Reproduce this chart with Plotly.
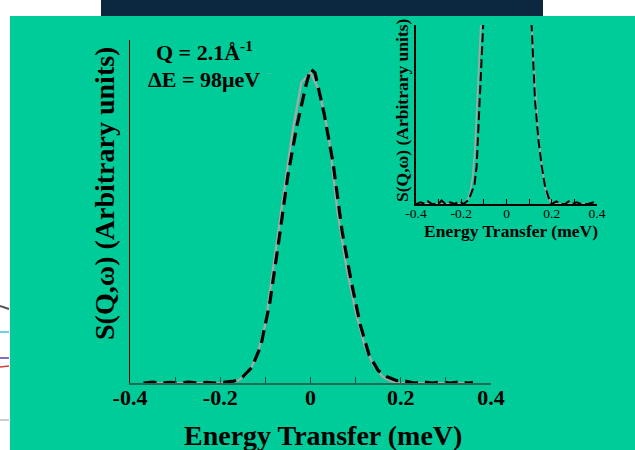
import plotly.graph_objects as go

# ---- main panel: S(Q,w) at Q = 2.1 1/A -------------------------------------
model_energy = [-0.36, -0.34, -0.32, -0.30, -0.28, -0.26, -0.24, -0.22, -0.20,
                -0.18, -0.16, -0.14, -0.12, -0.10, -0.08, -0.06, -0.04, -0.02,
                0.00, 0.02, 0.04, 0.06, 0.08, 0.10, 0.12, 0.14, 0.16, 0.18,
                0.20, 0.22, 0.24, 0.26, 0.28, 0.30, 0.32, 0.34, 0.36]
model_intensity = [0.0, 0.0, 0.0, 0.0, 0.0, 0.0, 0.0, 0.0, 0.0,
                   0.0, 0.008, 0.03, 0.08, 0.19, 0.40, 0.60, 0.81, 0.97,
                   1.0, 0.94, 0.80, 0.55, 0.37, 0.23, 0.12, 0.055, 0.02, 0.005,
                   0.0, 0.0, 0.0, 0.0, 0.0, 0.0, 0.0, 0.0, 0.0]

data_energy = [-0.37, -0.35, -0.33, -0.31, -0.29, -0.27, -0.25, -0.23, -0.21,
               -0.19, -0.17, -0.15, -0.13, -0.11, -0.09, -0.07, -0.05, -0.03,
               -0.01, 0.00, 0.01, 0.03, 0.05, 0.07, 0.09, 0.11, 0.13, 0.15,
               0.17, 0.19, 0.21, 0.23, 0.25, 0.27, 0.29, 0.31, 0.33, 0.35, 0.36]
data_intensity = [0.0, 0.003, 0.0, 0.002, 0.0, 0.003, 0.0, 0.002, 0.0,
                  0.002, 0.006, 0.02, 0.05, 0.12, 0.26, 0.46, 0.67, 0.83,
                  0.96, 1.013, 1.0, 0.87, 0.71, 0.49, 0.33, 0.19, 0.09, 0.04,
                  0.02, 0.008, 0.006, 0.0, 0.004, 0.0, 0.003, 0.0, 0.004, 0.0, 0.002]

# ---- inset: the wings of the same line, expanded vertically -----------------
inset_model_energy = [-0.38, -0.20, -0.18, -0.17, -0.16, -0.15, -0.14, -0.13,
                      -0.12, -0.11, -0.10, 0.00, 0.10, 0.11, 0.12, 0.13, 0.14,
                      0.15, 0.16, 0.17, 0.18, 0.19, 0.20, 0.38]
inset_model_intensity = [0.0, 0.0, 0.001, 0.003, 0.007, 0.015, 0.03, 0.055,
                         0.085, 0.11, 0.16, 1.0, 0.16, 0.105, 0.08, 0.058, 0.04,
                         0.028, 0.017, 0.009, 0.004, 0.002, 0.0, 0.0]

inset_data_energy = [-0.40, -0.38, -0.36, -0.347, -0.33, -0.30, -0.287, -0.27,
                     -0.25, -0.23, -0.206, -0.19, -0.17, -0.162, -0.15, -0.142,
                     -0.132, -0.125, -0.117, -0.11, -0.103, -0.09, 0.00, 0.09,
                     0.111, 0.126, 0.141, 0.156, 0.17, 0.19, 0.20, 0.22, 0.24,
                     0.26, 0.275, 0.29, 0.31, 0.33, 0.36, 0.40]
inset_data_intensity = [0.0, 0.001, 0.0, 0.0015, 0.0, 0.0, 0.002, 0.0,
                        0.001, 0.0, 0.0015, 0.0, 0.002, 0.004, 0.008, 0.01,
                        0.021, 0.04, 0.058, 0.077, 0.1, 0.2, 1.0, 0.2,
                        0.1, 0.058, 0.036, 0.021, 0.01, 0.002, 0.0, 0.0015, 0.0,
                        0.0, 0.0015, 0.0, 0.001, 0.0, 0.0, 0.0015]

tick_values = [-0.4, -0.2, 0, 0.2, 0.4]
tick_labels = ["-0.4", "-0.2", "0", "0.2", "0.4"]

BG = "#00CC99"
SERIF = "Liberation Serif, Times New Roman, serif"
W, H = 635, 450


def px_x(p):
    return p / W


def px_y(p):
    return 1 - p / H


fig = go.Figure()

fig.add_trace(go.Scatter(x=model_energy, y=model_intensity, mode="lines",
                         line=dict(color="#A8A8A8", width=2.2),
                         xaxis="x", yaxis="y", showlegend=False))
fig.add_trace(go.Scatter(x=data_energy, y=data_intensity, mode="lines",
                         line=dict(color="black", width=3.2, dash="13px,7px"),
                         xaxis="x", yaxis="y", showlegend=False))

fig.add_trace(go.Scatter(x=inset_model_energy, y=inset_model_intensity, mode="lines",
                         line=dict(color="#A8A8A8", width=1.6),
                         xaxis="x2", yaxis="y2", showlegend=False))
fig.add_trace(go.Scatter(x=inset_data_energy, y=inset_data_intensity, mode="lines",
                         line=dict(color="black", width=2, dash="9px,4px"),
                         xaxis="x2", yaxis="y2", showlegend=False))

main_x = [px_x(130), px_x(491)]
main_y = [px_y(383), px_y(40)]
ins_x = [px_x(416), px_x(597)]
ins_y = [px_y(204), px_y(25)]

fig.update_layout(
    width=W, height=H, autosize=False,
    margin=dict(l=0, r=0, t=0, b=0, pad=0),
    paper_bgcolor=BG, plot_bgcolor="rgba(0,0,0,0)",
    xaxis=dict(domain=main_x, range=[-0.4, 0.4], anchor="y", automargin=False,
               showgrid=False, zeroline=False,
               showline=True, linecolor="#1E6B58", linewidth=2,
               ticks="inside", ticklen=6, tickwidth=1, tickcolor="#1E4F44",
               tickvals=tick_values, ticktext=tick_labels,
               ticklabelstandoff=-6,
               minor=dict(dtick=0.1, tick0=0, ticks="inside", ticklen=6,
                          tickcolor="#1E4F44", tickwidth=1),
               tickfont=dict(family=SERIF, size=22, color="black", weight="bold")),
    yaxis=dict(domain=main_y, range=[0, 1.106], anchor="x", automargin=False,
               showgrid=False, zeroline=False,
               showline=True, linecolor="black", linewidth=1,
               showticklabels=False, ticks=""),
    xaxis2=dict(domain=ins_x, range=[-0.4, 0.4], anchor="y2", automargin=False,
                showgrid=False, zeroline=False,
                showline=True, linecolor="black", linewidth=1.5,
                ticks="inside", ticklen=5, tickwidth=1, tickcolor="black",
                tickvals=tick_values, ticktext=tick_labels,
                ticklabelstandoff=-4,
                minor=dict(dtick=0.1, tick0=0, ticks="inside", ticklen=5,
                           tickcolor="black", tickwidth=1),
                tickfont=dict(family=SERIF, size=13.5, color="black")),
    yaxis2=dict(domain=ins_y, range=[0, 0.1], anchor="x2", automargin=False,
                showgrid=False, zeroline=False,
                showline=True, linecolor="black", linewidth=1.5,
                showticklabels=False, ticks=""),
)

annotations = [
    dict(text="<b>Energy Transfer (meV)</b>", x=px_x(323), y=px_y(435),
         font=dict(family=SERIF, size=28, color="black")),
    dict(text="<b>S(Q,ω) (Arbitrary units)</b>", x=px_x(104), y=px_y(194),
         textangle=-90, font=dict(family=SERIF, size=28, color="black")),
    dict(text="<b>Q = 2.1Å<sup>-1</sup></b>", x=px_x(204), y=px_y(51),
         font=dict(family=SERIF, size=22, color="black")),
    dict(text="<b>ΔE = 98μeV</b>", x=px_x(204), y=px_y(79),
         font=dict(family=SERIF, size=22, color="black")),
    dict(text="<b>Energy Transfer (meV)</b>", x=px_x(511), y=px_y(231),
         font=dict(family=SERIF, size=17.5, color="black")),
    dict(text="<b>S(Q,ω) (Arbitrary units)</b>", x=px_x(402), y=px_y(110),
         textangle=-90, font=dict(family=SERIF, size=17.5, color="black")),
]
for a in annotations:
    a.update(xref="paper", yref="paper", showarrow=False,
             xanchor="center", yanchor="middle")
fig.update_layout(annotations=annotations)

# slide surroundings: title bar, white page edges and a sliver of the next panel
shapes = [
    dict(type="rect", x0=0, x1=px_x(101), y0=px_y(16), y1=1,
         fillcolor="white", line_width=0, layer="below"),
    dict(type="rect", x0=px_x(101), x1=px_x(543), y0=px_y(16), y1=1,
         fillcolor="#0C2841", line_width=0, layer="below"),
    dict(type="rect", x0=px_x(543), x1=1, y0=px_y(16), y1=1,
         fillcolor="white", line_width=0, layer="below"),
    dict(type="rect", x0=0, x1=px_x(10), y0=0, y1=1,
         fillcolor="white", line_width=0, layer="below"),
    dict(type="line", x0=0, x1=px_x(9), y0=px_y(306), y1=px_y(309),
         line=dict(color="#555555", width=2), layer="below"),
    dict(type="line", x0=0, x1=px_x(9), y0=px_y(332), y1=px_y(332),
         line=dict(color="#40C0E0", width=1.5), layer="below"),
    dict(type="line", x0=0, x1=px_x(9), y0=px_y(358), y1=px_y(358),
         line=dict(color="#6040A0", width=1.5), layer="below"),
    dict(type="line", x0=0, x1=px_x(9), y0=px_y(367), y1=px_y(366),
         line=dict(color="#D04030", width=1.5), layer="below"),
    dict(type="line", x0=0, x1=px_x(9), y0=px_y(420), y1=px_y(420),
         line=dict(color="#999999", width=1), layer="below"),
]
for s in shapes:
    s.update(xref="paper", yref="paper")
fig.update_layout(shapes=shapes)

page_fix = ("document.body.style.margin='0';"
            "document.body.style.padding='0';"
            "document.body.style.overflow='hidden';")

fig.write_html("out.html", config={"responsive": False, "displayModeBar": False},
               post_script=page_fix)
